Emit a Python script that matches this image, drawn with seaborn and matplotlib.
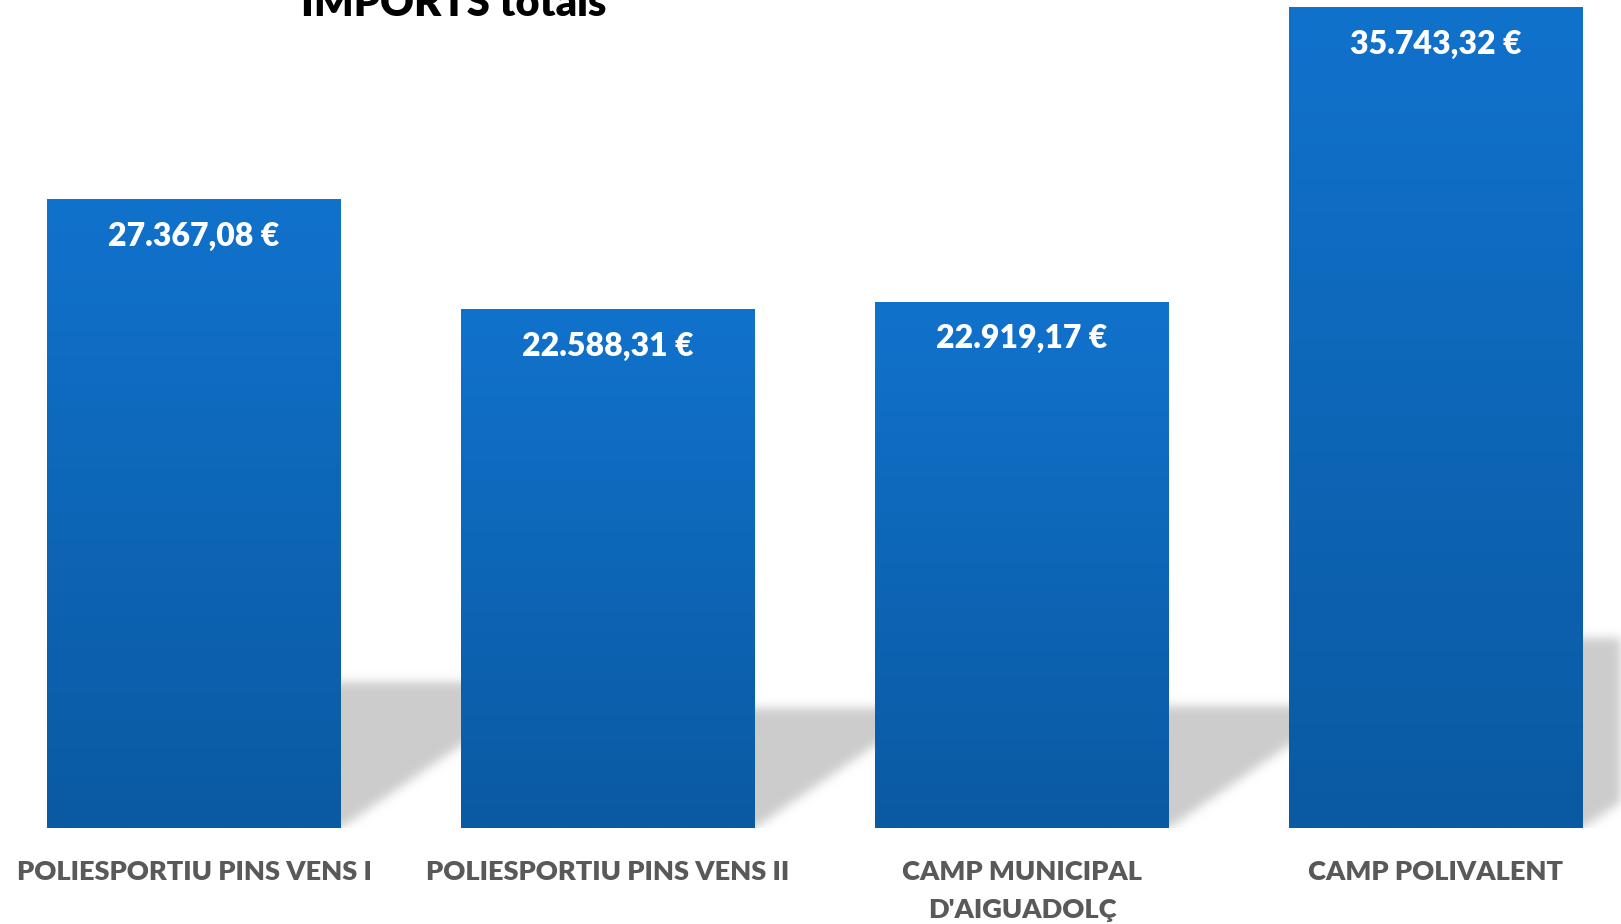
import numpy as np
import matplotlib
matplotlib.use("Agg")
import matplotlib.pyplot as plt
import seaborn as sns
from matplotlib.path import Path

# data
categories = ["POLIESPORTIU PINS VENS I", "POLIESPORTIU PINS VENS II",
              "CAMP MUNICIPAL\nD'AIGUADOLÇ", "CAMP POLIVALENT"]
values = [27367.08, 22588.31, 22919.17, 35743.32]
value_labels = ["27.367,08 €", "22.588,31 €", "22.919,17 €", "35.743,32 €"]
title = "IMPORTS totals"

sns.set_theme(style="white")
plt.rcParams['font.family'] = ['Lato', 'DejaVu Sans']

W, H, DPI = 1621, 924, 100
fig = plt.figure(figsize=(W / DPI, H / DPI), dpi=DPI)
ax_bottom = 96 / H
ax = fig.add_axes([0, ax_bottom, 1, 1 - ax_bottom])

top_col = np.array([0x11, 0x72, 0xCC]) / 255
bot_col = np.array([0x0A, 0x5A, 0xA2]) / 255

sns.barplot(x=list(range(len(values))), y=values, color=top_col, width=0.71,
            ax=ax, zorder=3, linewidth=0, saturation=1)

ax.set_xlim(-0.4686, 3.447)
ax.set_ylim(0, 35743.32 * 828 / 821)
for s in ax.spines.values():
    s.set_visible(False)
ax.set_xticks([])
ax.set_yticks([])
ax.set_xlabel("")
ax.set_ylabel("")

# gradient fill on each bar
grad = np.linspace(0, 1, 256)[:, None, None]
grad_img = top_col * (1 - grad) + bot_col * grad
for p in ax.patches:
    x0, y0 = p.get_x(), p.get_y()
    im = ax.imshow(grad_img, extent=(x0, x0 + p.get_width(), y0, y0 + p.get_height()),
                   aspect='auto', zorder=4, interpolation='bilinear')
    im.set_clip_path(p)

# soft perspective shadows behind the bars
ax_h = H - 96
img = np.zeros((ax_h, W))
yy, xx = np.mgrid[0:ax_h, 0:W]
pts = np.column_stack([xx.ravel() + 0.5, (ax_h - yy.ravel() - 0.5) + 96])
for p in ax.patches:
    (px0, py0), (px1, py1) = ax.transData.transform([[p.get_x(), 0],
                                                     [p.get_x() + p.get_width(), p.get_height()]])
    hs = 0.232 * (py1 - py0)
    sh = 1.45 * hs
    poly = Path([[px0, py0], [px1, py0], [px1 + sh, py0 + hs], [px0 + sh, py0 + hs], [px0, py0]])
    img = np.maximum(img, poly.contains_points(pts).reshape(ax_h, W).astype(float))

sigma = 5
k = np.arange(-15, 16)
kern = np.exp(-k ** 2 / (2 * sigma ** 2))
kern /= kern.sum()
img = np.apply_along_axis(lambda r: np.convolve(r, kern, mode='same'), 1, img)
img = np.apply_along_axis(lambda c: np.convolve(c, kern, mode='same'), 0, img)
rgba = np.zeros((ax_h, W, 4))
rgba[..., :3] = 0.8
rgba[..., 3] = img
ax.imshow(rgba, extent=(0, 1, 0, 1), transform=ax.transAxes, aspect='auto',
          zorder=1, interpolation='nearest')
ax.set_xlim(-0.4686, 3.447)
ax.set_ylim(0, 35743.32 * 828 / 821)

# value labels inside bars
for i, (v, lab) in enumerate(zip(values, value_labels)):
    ax.annotate(lab, xy=(i, v), xytext=(0, -37), textcoords='offset pixels',
                ha='center', va='center', color='white', fontsize=23,
                fontweight='heavy', zorder=6)

# category labels, one line at a time
for i, cat in enumerate(categories):
    for j, line in enumerate(cat.split("\n")):
        ax.annotate(line, xy=(i, 0), xytext=(0, -52 - 38 * j), textcoords='offset pixels',
                    ha='center', va='baseline', color='#595959', fontsize=19.6,
                    fontweight='heavy', annotation_clip=False)

fig.text(454 / W, 1 - 16 / H, title, ha='center', va='baseline',
         fontsize=30, fontweight='heavy', color='black')

fig.savefig("out.png", dpi=DPI)
